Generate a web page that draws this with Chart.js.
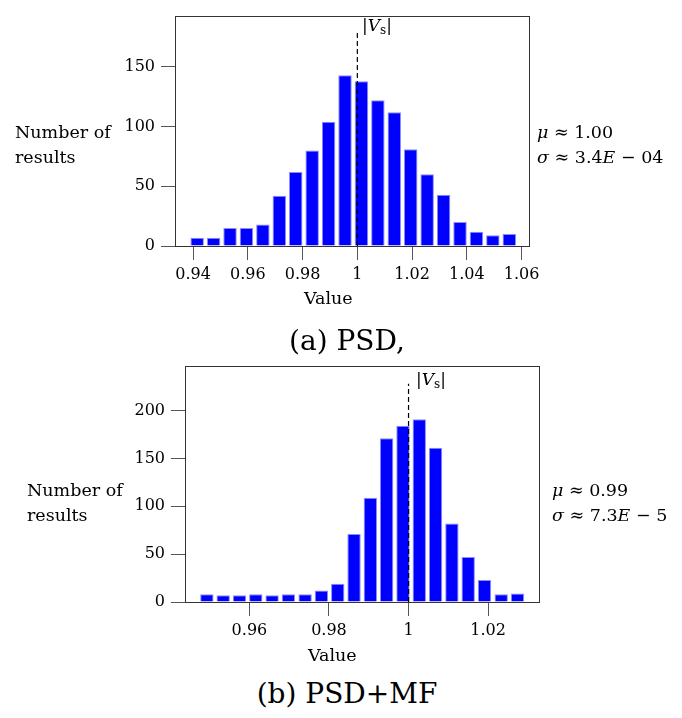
<!DOCTYPE html>
<html>
<head>
<meta charset="utf-8">
<script src="https://cdn.jsdelivr.net/npm/chart.js@4.4.0/dist/chart.umd.min.js"></script>
<style>
  body { margin: 0; background: #fff; }
  #page { position: relative; width: 682px; height: 718px; font-family: "DejaVu Serif", serif; color: #000; }
  canvas { position: absolute; left: 0; }
  .txt { position: absolute; font-size: 17.5px; line-height: 25px; white-space: nowrap; }
  .cap { position: absolute; font-size: 28px; width: 682px; text-align: center; white-space: nowrap; }
  .vs { font-size: 17px; }
  .vs sub { font-size: 12px; vertical-align: -3px; }
</style>
</head>
<body>
<div id="page">
  <canvas id="psd" width="682" height="300" style="top:0"></canvas>
  <canvas id="psdmf" width="682" height="320" style="top:330px"></canvas>

  <div class="txt" style="left:15px; top:120px">Number of<br>results</div>
  <div class="txt" style="left:537px; top:120px"><i>μ</i> ≈ 1.00<br><i>σ</i> ≈ 3.4<i>E</i> − 04</div>
  <div class="txt vs" style="left:362px; top:13px">|<i>V</i><sub>s</sub>|</div>
  <div class="txt" style="left:304px; top:286px">Value</div>
  <div class="cap" style="left:6px; top:324px">(a) PSD,</div>

  <div class="txt" style="left:27px; top:478px">Number of<br>results</div>
  <div class="txt" style="left:552px; top:478px"><i>μ</i> ≈ 0.99<br><i>σ</i> ≈ 7.3<i>E</i> − 5</div>
  <div class="txt vs" style="left:416px; top:367px">|<i>V</i><sub>s</sub>|</div>
  <div class="txt" style="left:308px; top:643px">Value</div>
  <div class="cap" style="left:6px; top:677px">(b) PSD+MF</div>
</div>
<script>
// (a) PSD
const binsA = [0.9415, 0.9475, 0.9535, 0.9595, 0.9655, 0.9715, 0.9775, 0.9835, 0.9895, 0.9955,
               1.0015, 1.0075, 1.0135, 1.0195, 1.0255, 1.0315, 1.0375, 1.0435, 1.0495, 1.0555];
const countsA = [7, 7, 15, 15, 18, 42, 62, 80, 104, 143, 138, 122, 112, 81, 60, 43, 20, 12, 9, 10];
const xTicksA = [0.94, 0.96, 0.98, 1, 1.02, 1.04, 1.06];
const xLabelsA = ["0.94", "0.96", "0.98", "1", "1.02", "1.04", "1.06"];
const yTicksA = [0, 50, 100, 150];

// (b) PSD+MF
const binsB = [0.9493, 0.9534, 0.9575, 0.9616, 0.9657, 0.9698, 0.9740, 0.9781, 0.9822, 0.9863,
               0.9904, 0.9945, 0.9986, 1.0027, 1.0068, 1.0109, 1.0150, 1.0191, 1.0233, 1.0274];
const countsB = [8, 7, 7, 8, 7, 8, 8, 12, 19, 71, 109, 171, 184, 191, 161, 82, 47, 23, 8, 9];
const xTicksB = [0.96, 0.98, 1, 1.02];
const xLabelsB = ["0.96", "0.98", "1", "1.02"];
const yTicksB = [0, 50, 100, 150, 200];

const vsValue = 1;

const tickFont = { family: "DejaVu Serif", size: 16 };

const framePlugin = {
  id: "frame",
  afterDraw(chart) {
    const a = chart.chartArea;
    const ctx = chart.ctx;
    ctx.save();
    ctx.strokeStyle = "#333";
    ctx.lineWidth = 1;
    ctx.strokeRect(Math.round(a.left) + 0.5, Math.round(a.top) + 0.5,
                   Math.round(a.right - a.left), Math.round(a.bottom - a.top));
    ctx.restore();
  }
};

function makeHist(id, bins, counts, xTicks, xLabels, yTicks, xr, yMax, vsTop, yWidth, pad) {
  new Chart(document.getElementById(id), {
    type: "bar",
    data: {
      datasets: [
        {
          type: "line",
          data: [{ x: vsValue, y: 0 }, { x: vsValue, y: vsTop }],
          borderColor: "#000",
          borderWidth: 1.2,
          borderDash: [5, 3],
          pointRadius: 0,
          order: 0
        },
        {
          data: bins.map((b, i) => ({ x: b, y: counts[i] })),
          backgroundColor: "#0000ff",
          borderColor: "#8c8cff",
          borderWidth: 1,
          barPercentage: 0.82,
          categoryPercentage: 1,
          order: 1
        }
      ]
    },
    options: {
      responsive: false,
      animation: false,
      layout: { padding: pad },
      plugins: { legend: { display: false }, tooltip: { enabled: false } },
      scales: {
        x: {
          type: "linear",
          min: xr[0],
          max: xr[1],
          offset: false,
          grid: { offset: false, drawOnChartArea: false, drawTicks: true, tickLength: 14, color: "#555" },
          border: { display: false },
          afterBuildTicks: s => { s.ticks = xTicks.map(v => ({ value: v })); },
          afterFit: s => { s.height = 40; },
          ticks: {
            autoSkip: false, maxRotation: 0, padding: 5, color: "#000", font: tickFont,
            callback: (v, i) => xLabels[i]
          }
        },
        y: {
          min: 0,
          max: yMax,
          grid: { drawOnChartArea: false, drawTicks: true, tickLength: 14, color: "#555" },
          border: { display: false },
          afterBuildTicks: s => { s.ticks = yTicks.map(v => ({ value: v })); },
          afterFit: s => { s.width = yWidth; },
          ticks: { padding: 6, color: "#000", font: tickFont }
        }
      }
    },
    plugins: [framePlugin]
  });
}

makeHist("psd", binsA, countsA, xTicksA, xLabelsA, yTicksA, [0.9334, 1.0627], 193, 179, 175,
         { top: 10, right: 153, bottom: 14, left: 0 });
makeHist("psdmf", binsB, countsB, xTicksB, xLabelsB, yTicksB, [0.9438, 1.0328], 246.5, 228, 185,
         { top: 36, right: 143, bottom: 8, left: 0 });
</script>
</body>
</html>
